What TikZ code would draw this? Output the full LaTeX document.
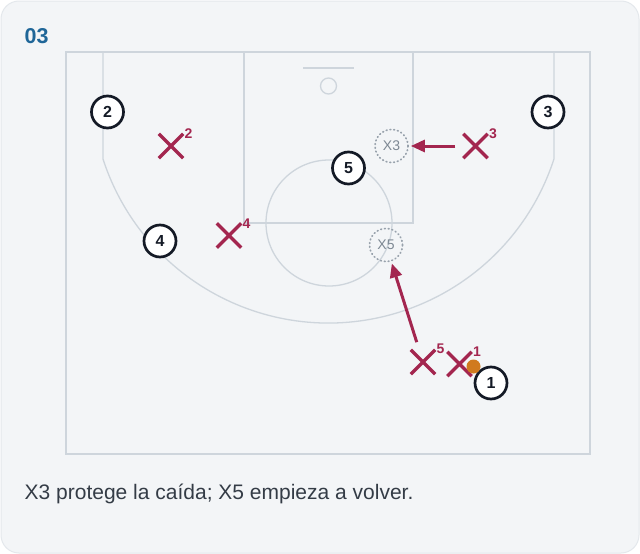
\documentclass[tikz,border=0pt]{standalone}
\usepackage{fontspec}
\setmainfont{Liberation Sans}
\usetikzlibrary{arrows.meta,shapes.misc}

\definecolor{cardbg}{HTML}{F3F5F7}
\definecolor{cardline}{HTML}{E4E8EC}
\definecolor{courtline}{HTML}{CED5DC}
\definecolor{defred}{HTML}{A3264F}
\definecolor{ghostgray}{HTML}{98A2AC}
\definecolor{ghosttext}{HTML}{7D8893}
\definecolor{inkdark}{HTML}{141A26}
\definecolor{captext}{HTML}{343C46}
\definecolor{titleblue}{HTML}{1F6698}
\definecolor{ballorange}{HTML}{D07A1E}

\tikzset{
  court/.style={draw=courtline, line width=1.3pt},
  player/.style={circle, draw=inkdark, fill=white, line width=2.7pt,
    minimum size=32pt, inner sep=0pt, text=inkdark,
    font=\bfseries\fontsize{16}{18}\selectfont},
  defender/.style={cross out, draw=defred, line width=3.4pt,
    minimum size=21pt, inner sep=0pt},
  sup/.style={text=defred, font=\bfseries\fontsize{14}{16}\selectfont, inner sep=0pt},
  ghost/.style={circle, draw=ghostgray, line width=1.7pt,
    dash pattern=on 0.8pt off 3pt, line cap=round,
    minimum size=33pt, inner sep=0pt, text=ghosttext,
    font=\fontsize{14}{16}\selectfont},
  move/.style={draw=defred, line width=3pt,
    -{Triangle[length=14pt,width=12pt]}, shorten <=8pt, shorten >=2pt},
  ball/.style={circle, fill=ballorange, minimum size=14pt, inner sep=0pt}
}

\begin{document}
\begin{tikzpicture}[x=1pt,y=-1pt]
  % card
  \useasboundingbox (0,0) rectangle (640,554);
  \fill[white] (0,0) rectangle (640,554);
  \filldraw[fill=cardbg, draw=cardline, line width=1pt, rounded corners=18pt] (1,1) rectangle (639,553);
  \node[anchor=west, inner sep=0pt, text=titleblue,
        font=\bfseries\fontsize{21.5}{24}\selectfont] (title) at (24.5,36) {03};

  % half court
  \draw[court] (66,52) rectangle (590,454);
  \draw[court] (244,52) -- (244,223) -- (413,223) -- (413,52);
  \draw[court] (329,223) circle (63);
  \draw[court] (303,68) -- (354,68);
  \draw[court] (328.5,86) circle (8);
  \draw[court] (103,52) -- (103,159)
    arc[start angle=162.06, end angle=17.94, radius=237] -- (554,52);

  % defence
  \node[defender] (x2) at (171,146) {};
  \node[defender] (x3) at (475.5,146) {};
  \node[defender] (x4) at (229,235.5) {};
  \node[defender] (x5) at (423,362) {};
  \node[defender] (x1) at (459.5,364) {};
  \node[sup] at (188.5,134) {2};
  \node[sup] at (493,134) {3};
  \node[sup] at (246.5,224) {4};
  \node[sup] at (440.5,349) {5};
  \node[sup] at (477,351.5) {1};

  % help positions
  \node[ghost] (g3) at (391.5,146) {X3};
  \node[ghost] (g5) at (386,245) {X5};
  \draw[move] (x3) -- (g3);
  \draw[move] (x5) -- (g5);

  % offence
  \node[player] (p2) at (107.5,112) {2};
  \node[player] (p3) at (548,112) {3};
  \node[player] (p5) at (348.5,168) {5};
  \node[player] (p4) at (160,241) {4};
  \node[player] (p1) at (491,383) {1};
  \node[ball] (ball) at (473.5,366.5) {};

  \node[anchor=west, inner sep=0pt, text=captext,
        font=\fontsize{21}{25}\selectfont] (caption) at (24.5,494)
    {X3 protege la caída; X5 empieza a volver.};
\end{tikzpicture}
\end{document}
